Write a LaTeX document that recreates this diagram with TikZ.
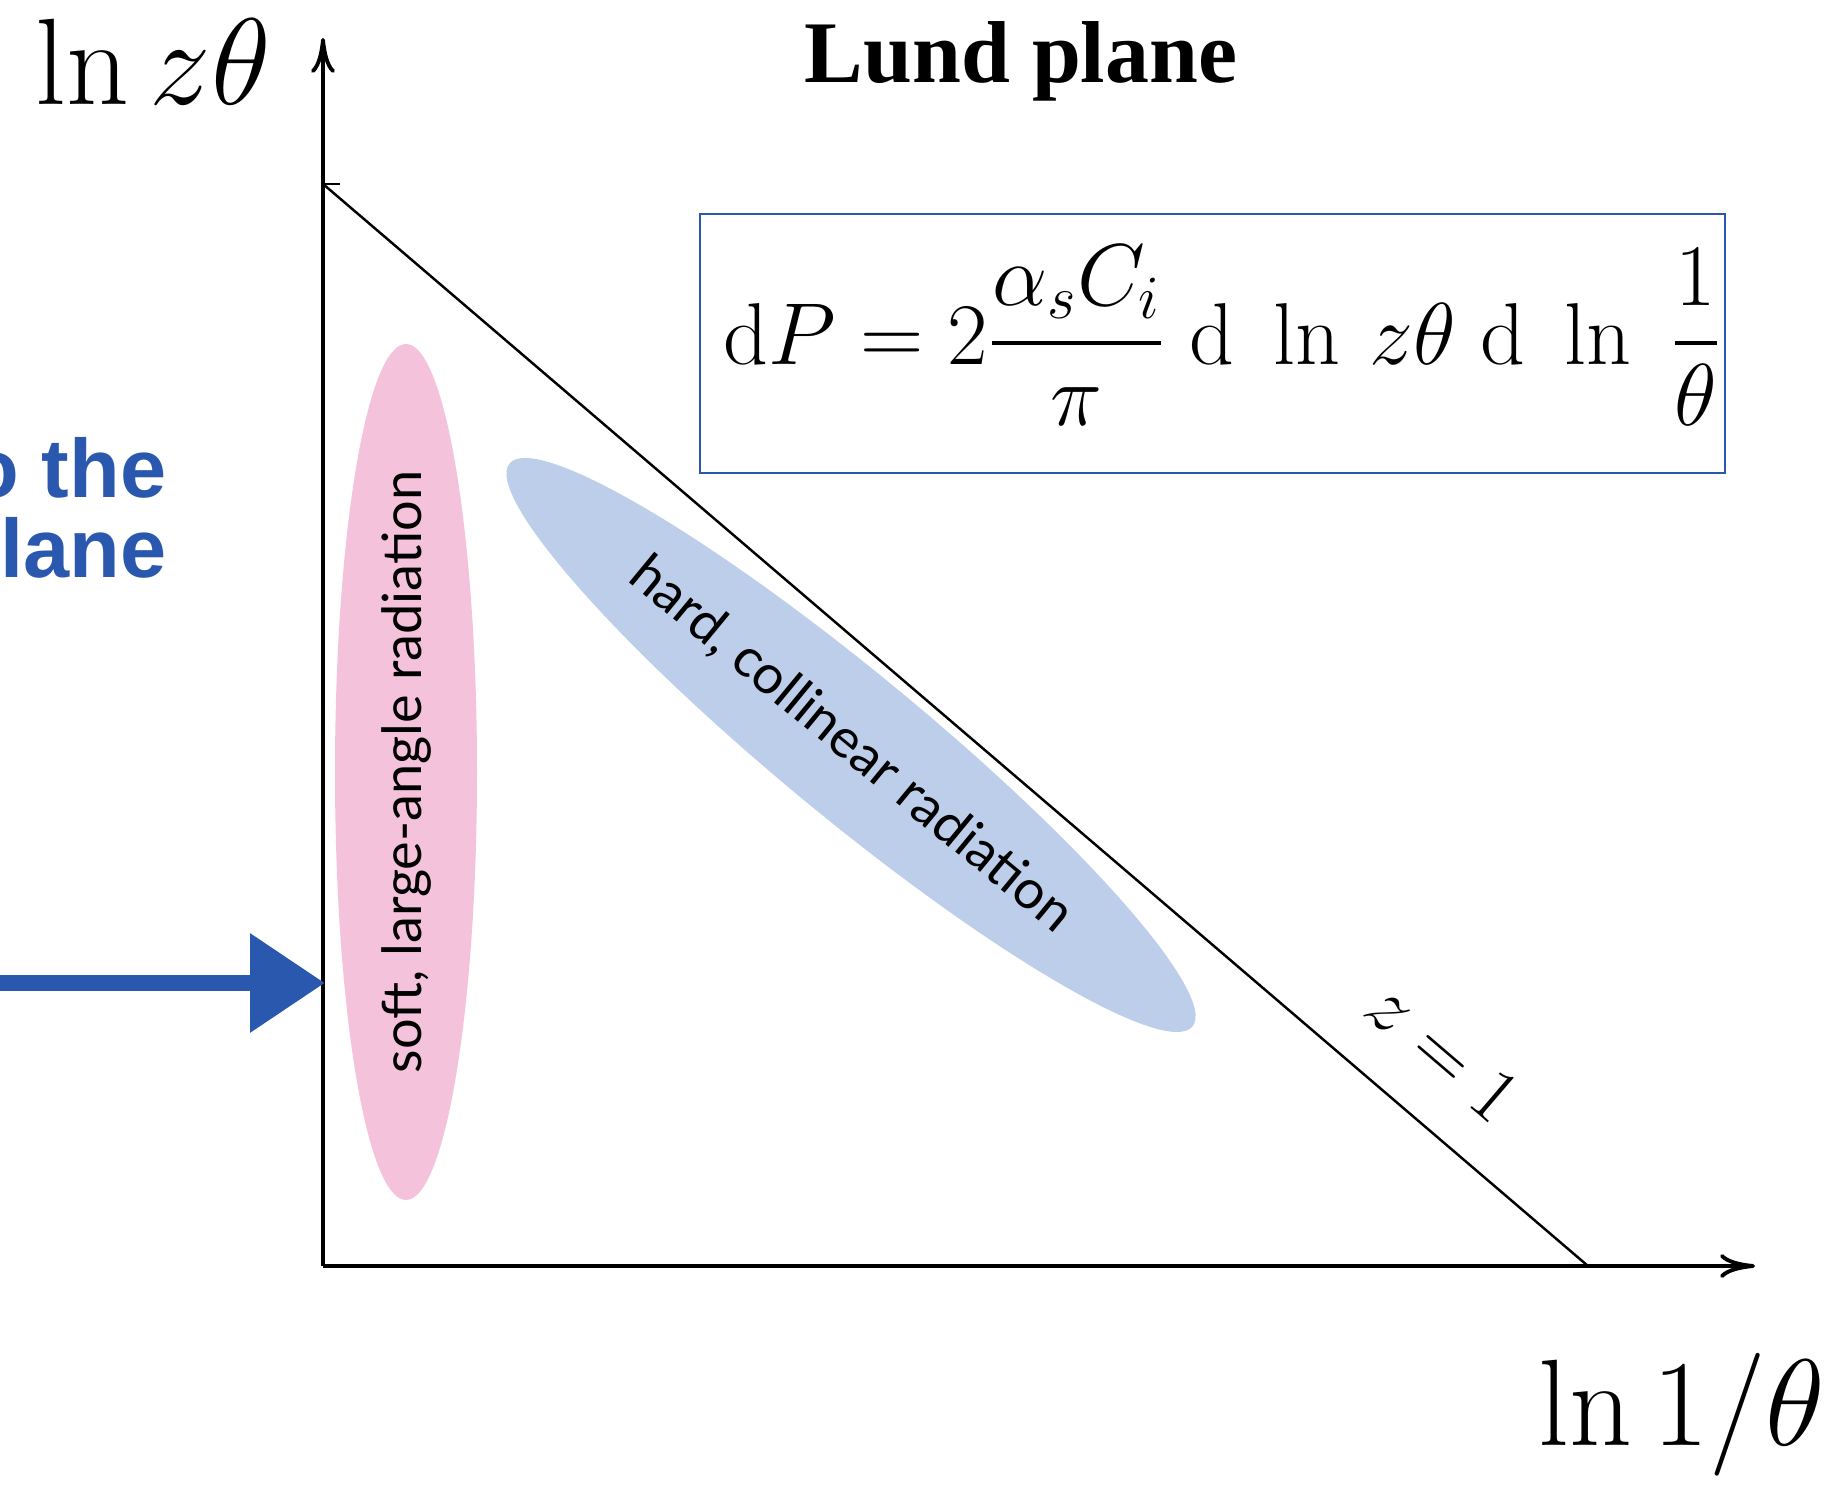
\RequirePackage{fix-cm}
\documentclass[tikz,border=0pt]{standalone}
\usepackage{amsmath}
\usepackage{fontspec}
\usepackage{tikz}
\usetikzlibrary{arrows.meta,positioning,shapes.geometric}
\newfontfamily\slidefont{Liberation Sans}
\newfontfamily\regionfont{Lato}
\newfontfamily\titlefont{Liberation Serif}
\definecolor{pinkreg}{RGB}{244,194,218}
\definecolor{bluereg}{RGB}{189,206,235}
\definecolor{slideblue}{RGB}{42,88,175}

\begin{document}
\begin{tikzpicture}[>=To,axisline/.style={line width=1.1pt,-{To[length=3.5mm,width=2.4mm]}},region/.style={ellipse,inner sep=0pt,font=\regionfont\fontsize{15.4}{17}\selectfont}]
\useasboundingbox (0,0) rectangle (18.34,14.84);
\coordinate (orig) at (3.23,2.18);
\coordinate (ytip) at (3.23,14.46);
\coordinate (xtip) at (17.55,2.18);
\coordinate (zhi) at (3.23,13.00);
\coordinate (zlo) at (15.88,2.18);
% emission regions
\node[region,fill=pinkreg,minimum width=8.56cm,minimum height=1.42cm,rotate=90] (soft) at (4.06,7.12) {soft, large-angle radiation};
\node[region,fill=bluereg,minimum width=8.85cm,minimum height=1.45cm,rotate=-39.5] (hard) at (8.51,7.39) {hard, collinear radiation};
% axes and kinematic limit
\draw[axisline] (orig)--(ytip);
\draw[axisline] (orig)--(xtip);
\draw[line width=0.7pt] (zhi)--++(0.17,0);
\draw[line width=0.7pt] (zhi)--(zlo) node[pos=0.85,sloped,above=4.3mm,inner sep=0pt,font=\fontsize{22}{24}\selectfont] (zlab) {$z = 1$};
\node[anchor=base west,inner sep=0pt,font=\fontsize{35}{40}\selectfont] (ylab) at (0.35,13.79) {$\ln z\theta$};
\node[anchor=base west,inner sep=0pt,font=\fontsize{35}{40}\selectfont] (xlab) at (15.38,0.39) {$\ln 1/\theta$};
\node[anchor=base,inner sep=0pt,font=\titlefont\bfseries\fontsize{25}{30}\selectfont] (title) at (10.21,14.01) {Lund plane};
\node[draw=slideblue,line width=0.6pt,minimum width=10.25cm,minimum height=2.59cm,inner sep=0pt,text height=1.2cm,text depth=0.77cm,font=\fontsize{25}{28}\selectfont] (rate) at (12.125,11.405) {\hspace{0.2cm}$\displaystyle \mathrm{d}P = 2\frac{\alpha_s C_i}{\pi}\;\mathrm{d}\;\ln\, z\theta\;\mathrm{d}\;\ln\;\frac{1}{\theta}$};
% pointer from the left
\node[anchor=base east,align=right,inner sep=0pt,text=slideblue,font=\slidefont\bfseries\fontsize{23.6}{23}\selectfont] (goal) at (1.67,9.06) {to the\\plane};
\coordinate (feed) at (-0.1,5.01);
\coordinate (hit) at (3.25,5.01);
\draw[slideblue,line width=4.8pt,-{Triangle[length=7.5mm,width=9.5mm]}] (feed)--(hit);
\end{tikzpicture}
\end{document}
